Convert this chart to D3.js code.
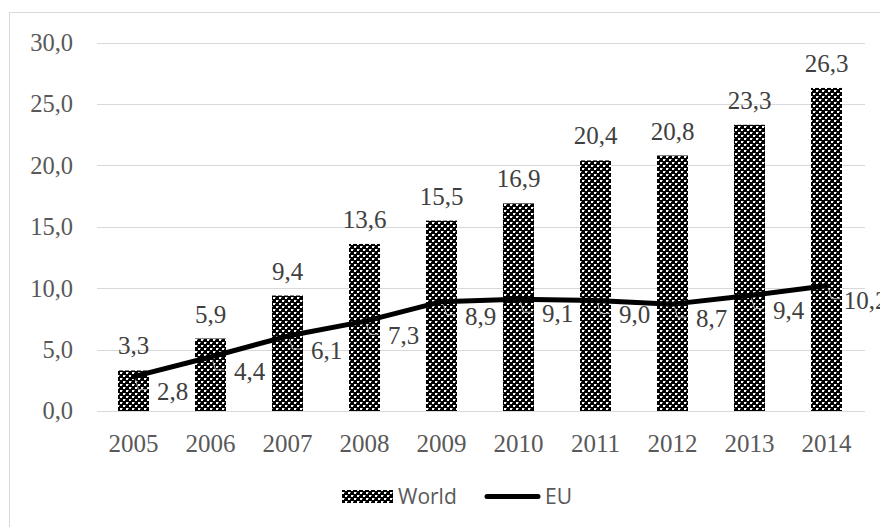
<!DOCTYPE html>
<html><head><meta charset="utf-8">
<script src="https://cdn.jsdelivr.net/npm/d3@7"></script>
<style>
html,body{margin:0;padding:0;background:#fff;}
svg{display:block;}
</style></head>
<body>
<script>
const years = ["2005","2006","2007","2008","2009","2010","2011","2012","2013","2014"];
const worldValues = [3.3, 5.9, 9.4, 13.6, 15.5, 16.9, 20.4, 20.8, 23.3, 26.3];
const euValues = [2.8, 4.4, 6.1, 7.3, 8.9, 9.1, 9.0, 8.7, 9.4, 10.2];
const yTicks = [0, 5, 10, 15, 20, 25, 30];
const seriesNames = ["World", "EU"];

const W = 880, H = 527;
const SERIF = "'Liberation Serif', 'Times New Roman', Times, serif";
const fmt = v => v.toFixed(1).replace(".", ",");

const svg = d3.select("body").append("svg").attr("width", W).attr("height", H);
const defs = svg.append("defs");
const pat = defs.append("pattern").attr("id", "chk").attr("patternUnits", "userSpaceOnUse")
  .attr("width", 6).attr("height", 6);
pat.append("rect").attr("width", 6).attr("height", 6).attr("fill", "#000");
pat.append("rect").attr("x", 0).attr("y", 0).attr("width", 2).attr("height", 2).attr("fill", "#fff");
pat.append("rect").attr("x", 3).attr("y", 3).attr("width", 2).attr("height", 2).attr("fill", "#fff");
pat.append("rect").attr("x", 2).attr("y", 0).attr("width", 1).attr("height", 1).attr("fill", "#888");
pat.append("rect").attr("x", 5).attr("y", 3).attr("width", 1).attr("height", 1).attr("fill", "#888");

// chart frame
svg.append("rect").attr("x", 9.5).attr("y", 12.5).attr("width", W + 20).attr("height", H + 20)
  .attr("fill", "none").attr("stroke", "#d9d9d9").attr("stroke-width", 1);

const x = d3.scaleBand().domain(years).range([95, 865]);
const y = d3.scaleLinear().domain([0, 30]).range([411, 42.5]);

// gridlines
svg.append("g").selectAll("line").data(yTicks).join("line")
  .attr("x1", 97).attr("x2", 865)
  .attr("y1", d => Math.round(y(d)) + 0.5).attr("y2", d => Math.round(y(d)) + 0.5)
  .attr("stroke", "#d9d9d9").attr("stroke-width", 1);

// y axis labels
const yAxis = d3.axisLeft(y).tickValues(yTicks).tickFormat(fmt).tickSize(0).tickPadding(0);
const yg = svg.append("g").attr("transform", "translate(73,0)").call(yAxis);
yg.attr("font-family", SERIF);
yg.select(".domain").remove();
yg.selectAll("text").style("font-family", SERIF)
  .attr("font-size", 24.5).attr("fill", "#595959");

// x axis labels
const xAxis = d3.axisBottom(x).tickSize(0).tickPadding(0);
const xg = svg.append("g").attr("transform", "translate(0,411)").call(xAxis);
xg.attr("font-family", SERIF);
xg.select(".domain").remove();
xg.selectAll("text").style("font-family", SERIF)
  .attr("font-size", 25).attr("fill", "#595959").attr("dy", null).attr("y", 41);

const bw = 31;
const cx = d => x(d) + x.bandwidth() / 2;

// bars
svg.append("g").selectAll("rect").data(years).join("rect")
  .attr("x", d => cx(d) - bw / 2).attr("width", bw)
  .attr("y", (d, i) => y(worldValues[i])).attr("height", (d, i) => y(0) - y(worldValues[i]))
  .attr("fill", "url(#chk)");

// world labels
svg.append("g").selectAll("text").data(years).join("text")
  .attr("x", d => cx(d)).attr("y", (d, i) => y(worldValues[i]) - 16)
  .attr("text-anchor", "middle")
  .style("font-family", SERIF)
  .attr("font-size", 25).attr("fill", "#404040")
  .text((d, i) => fmt(worldValues[i]));

// EU leader lines
svg.append("g").selectAll("polyline").data(years).join("polyline")
  .attr("points", (d, i) => {
    const px = cx(d), py = y(euValues[i]);
    return `${px + 2},${py + 3} ${px + 5},${py + 13} ${px + 14},${py + 13}`;
  })
  .attr("fill", "none").attr("stroke", "#a6a6a6").attr("stroke-width", 1);

// EU line
const line = d3.line().x((d, i) => cx(years[i])).y(d => y(d));
svg.append("path").datum(euValues).attr("d", line)
  .attr("fill", "none").attr("stroke", "#000").attr("stroke-width", 5)
  .attr("stroke-linejoin", "round").attr("stroke-linecap", "round");

// EU labels
svg.append("g").selectAll("text").data(years).join("text")
  .attr("x", d => cx(d) + 39).attr("y", (d, i) => y(euValues[i]) + 23)
  .attr("text-anchor", "middle")
  .style("font-family", SERIF)
  .attr("font-size", 25).attr("fill", "#404040")
  .text((d, i) => fmt(euValues[i]));

// legend
const lg = svg.append("g");
lg.append("rect").attr("x", 342).attr("y", 490).attr("width", 51).attr("height", 13).attr("fill", "url(#chk)");
lg.append("text").attr("x", 398).attr("y", 504).style("font-family", "'Open Sans', sans-serif")
  .attr("font-size", 21).attr("fill", "#595959").text(seriesNames[0]);
lg.append("line").attr("x1", 487).attr("x2", 538).attr("y1", 496.5).attr("y2", 496.5)
  .attr("stroke", "#000").attr("stroke-width", 5).attr("stroke-linecap", "round");
lg.append("text").attr("x", 545).attr("y", 504).style("font-family", "'Open Sans', sans-serif")
  .attr("font-size", 21).attr("fill", "#595959").text(seriesNames[1]);
</script>
</body></html>
